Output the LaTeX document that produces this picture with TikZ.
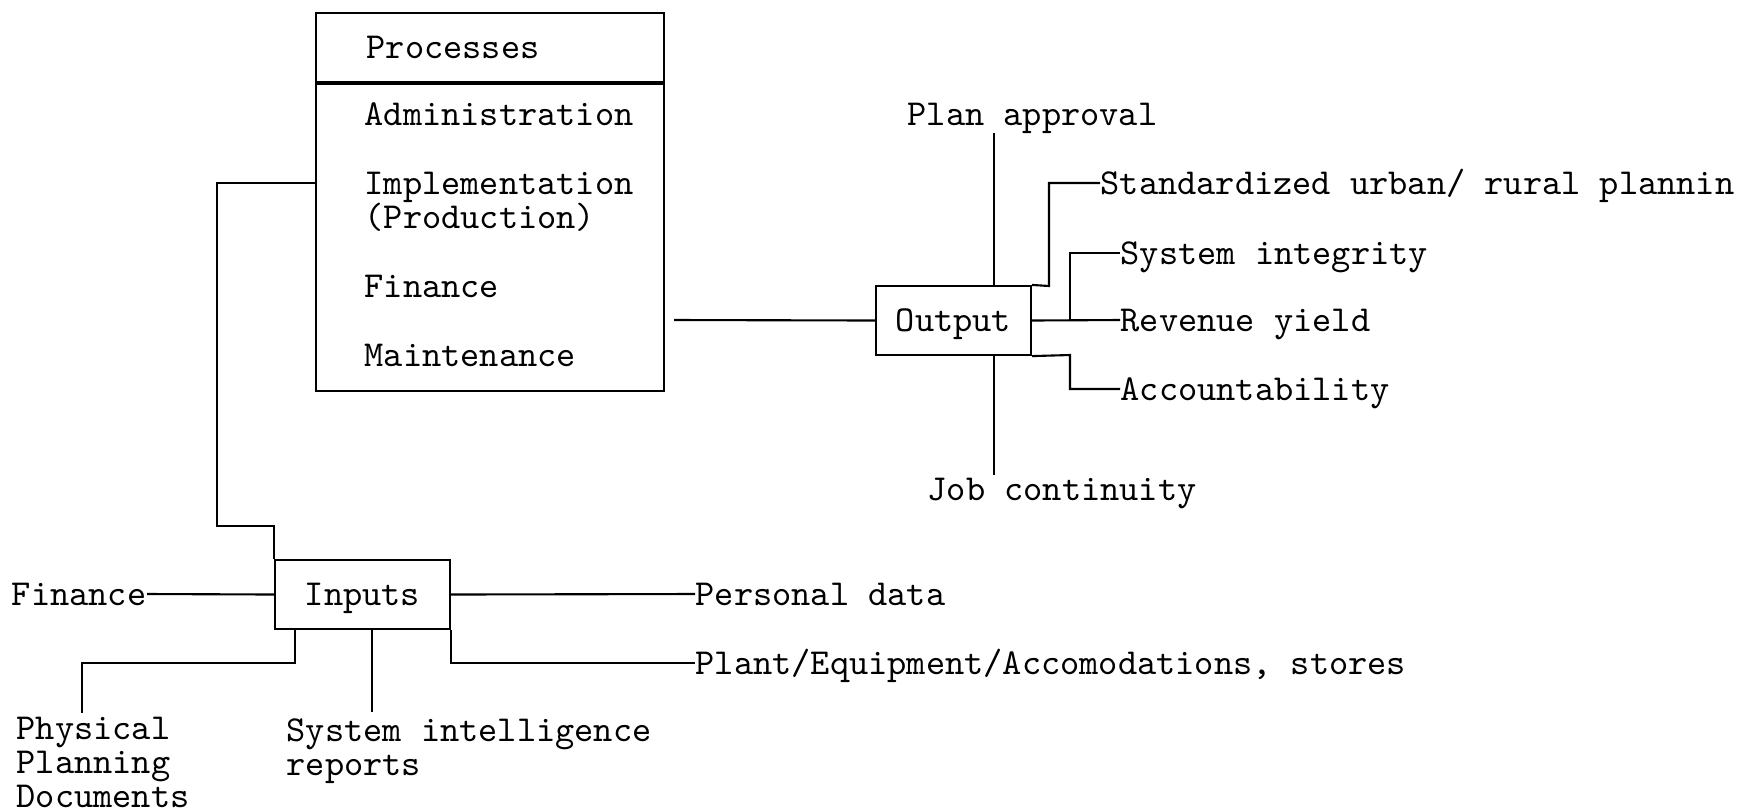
\documentclass[tikz,border=0pt]{standalone}
\usetikzlibrary{positioning}
\tikzset{box/.style={draw,line width=.6pt,inner sep=0pt,text height=1.8ex,text depth=.3ex},
	 lbl/.style={inner sep=0pt,anchor=west,text height=1.8ex,text depth=.3ex},
	 mlbl/.style={inner sep=0pt,anchor=north west,align=left},
	 wire/.style={line width=.6pt}
	 }

\begin{document}
\begin{tikzpicture}[x=0.01cm,y=-0.01cm,font=\fontsize{10.4}{9.7}\selectfont\ttfamily] % system model
	\useasboundingbox (0,0) rectangle (1739,811);
	% processes
	\node[box,anchor=north west,minimum width=3.48cm,minimum height=.69cm] (prochead) at (315,12) {};
	\node[box,below=0pt of prochead,minimum width=3.48cm,minimum height=3.07cm] (procbody) {};
	\node[lbl] (proctitle) at (366,47) {Processes};
	\node[lbl] (adm) at (364,114) {Administration};
	\node[lbl] (impl) at (364,183) {Implementation};
	\node[lbl] (prod) at (364,217) {(Production)};
	\node[lbl] (fin) at (364,286) {Finance};
	\node[lbl] (maint) at (364,355) {Maintenance};
	% inputs
	\node[box,minimum width=1.75cm,minimum height=.69cm] (inputs) at (362.5,594.5) {Inputs};
	\node[lbl,anchor=east] (finin) at (147,594) {Finance};
	\node[lbl] (pers) at (695,594) {Personal data};
	\node[lbl] (plant) at (695,663) {Plant/Equipment/Accomodations, stores};
	\node[mlbl] (phys) at (16,716) {Physical\\Planning\\Documents};
	\node[mlbl] (sysint) at (286,718) {System intelligence\\reports};
	% output
	\node[box,minimum width=1.55cm,minimum height=.69cm] (output) at (953.5,320.5) {Output};
	\node[lbl] (plan) at (907,114) {Plan approval};
	\node[lbl] (job) at (927,489) {Job continuity};
	\node[lbl] (std) at (1100,183) {Standardized urban/ rural plannin};
	\node[lbl] (sysin) at (1120,253) {System integrity};
	\node[lbl] (rev) at (1120,320) {Revenue yield};
	\node[lbl] (acc) at (1120,389) {Accountability};
	% bends and free ends
	\coordinate (procbend) at (217,526);
	\coordinate (physend) at (82,713);
	\coordinate (sysend) at (372,712);
	\coordinate (procout) at (674,320);
	\coordinate (planend) at (994,133);
	\coordinate (jobend) at (994,475);
	\coordinate (stdbend) at (1049,286);
	\coordinate (sibend) at (1070,320);
	\coordinate (accbend) at (1070,355);
	% connectors
	\draw[wire] (procbody.west |- impl) -| (procbend) -| (inputs.north west);
	\draw[wire] (finin.east) -- (inputs.west);
	\draw[wire] (inputs.east) -- (pers.west);
	\draw[wire] (inputs.south east) |- (plant.west);
	\draw[wire] (inputs.south west -| 295,0) |- (physend |- plant.west) -- (physend);
	\draw[wire] (inputs.south -| sysend) -- (sysend);
	\draw[wire] (procout) -- (output.west);
	\draw[wire] (planend) -- (planend |- output.north);
	\draw[wire] (planend |- output.south) -- (jobend);
	\draw[wire] (output.north east) -- (stdbend) |- (std.west);
	\draw[wire] (output.east) -- (rev.west);
	\draw[wire] (sibend) |- (sysin.west);
	\draw[wire] (output.south east) -- (accbend) |- (acc.west);
\end{tikzpicture}
\end{document}
